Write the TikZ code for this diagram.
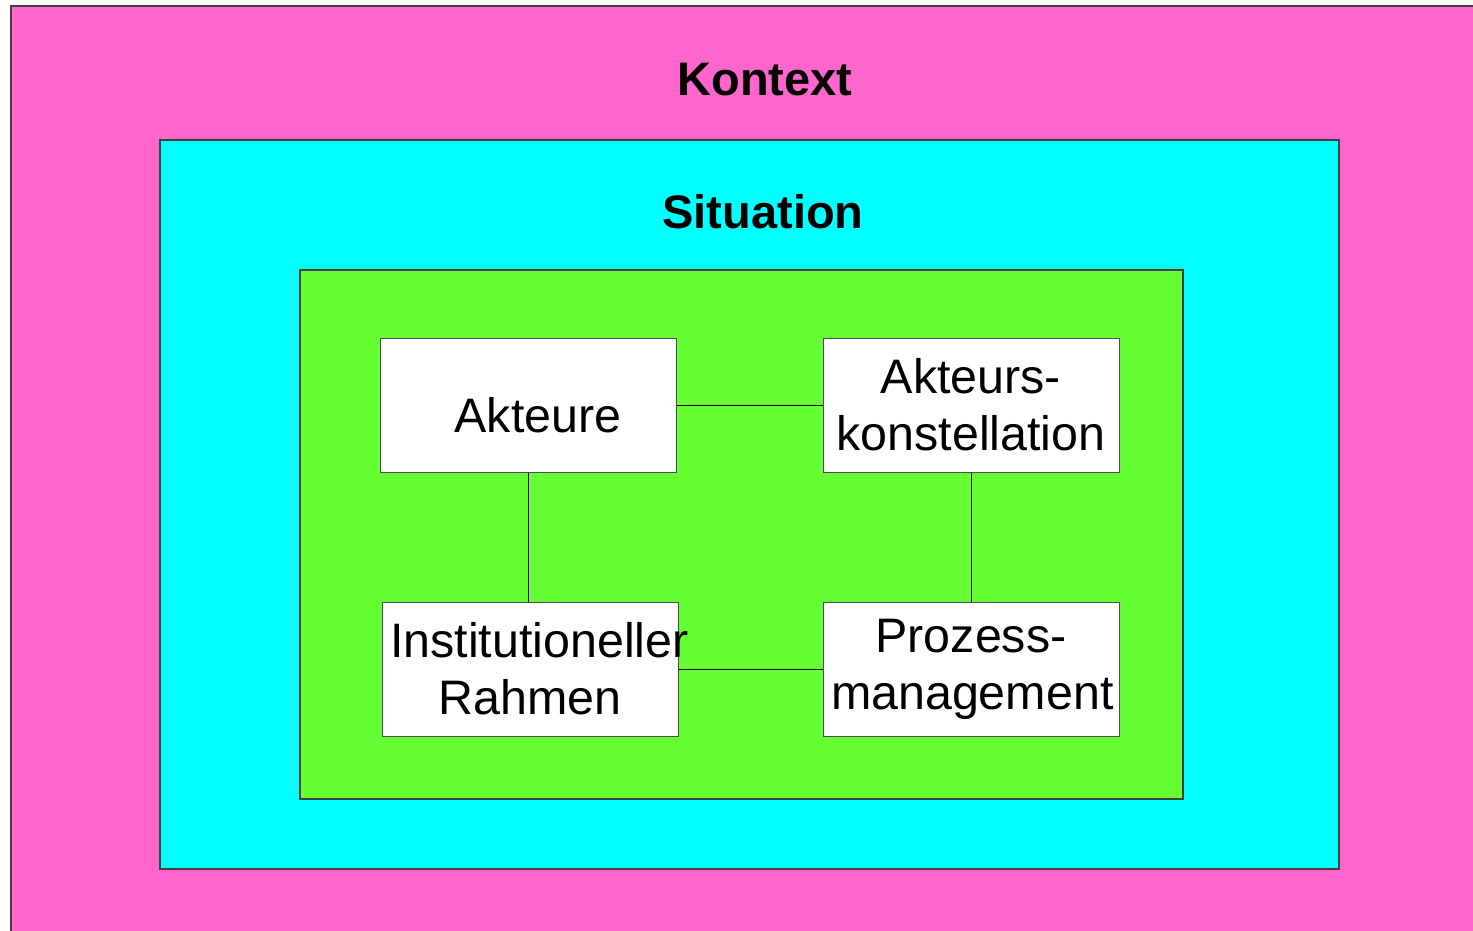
\documentclass[tikz,border=0pt]{standalone}
\usepackage{fontspec}
\setmainfont{Liberation Sans}
\usetikzlibrary{positioning}
\definecolor{rosa}{RGB}{255, 102, 204}
\definecolor{tuerkis}{RGB}{0, 255, 255}
\definecolor{gruen}{RGB}{102, 255, 51}
\tikzset{
    ebene/.style={draw=black!75, line width=0.6pt},
    feld/.style={draw=black!70, fill=white, rectangle, line width=0.5pt, inner sep=4pt,
                 minimum width=148pt, minimum height=67pt, text width=140pt, align=center,
                 font=\fontsize{24.2}{28.5}\selectfont},
    titel/.style={font=\fontsize{23.5}{28.5}\selectfont\bfseries},
    conn/.style={-, black, line width=0.5pt},
}
\begin{document}
\begin{tikzpicture}[x=0.5pt, y=-0.5pt]
    \useasboundingbox (0,0) rectangle (1473,931);
    \fill[white] (0,0) rectangle (1473,931);

    \draw[ebene, fill=rosa] (11,6) rectangle (1490,950);
    \draw[ebene, fill=tuerkis] (160,140) rectangle (1339,869);
    \draw[ebene, fill=gruen] (300,270) rectangle (1183,799);

    \node[titel] (kontext) at (765,80) {Kontext};
    \node[titel] (situation) at (763,212) {Situation};

    \node[feld] (akt) at (528,405) {\raisebox{-5pt}[\height][\depth]{\hspace*{10pt}Akteure}};
    \node[feld] (kon) at (971,405) {Akteurs-\\konstellation};
    \node[feld] (ins) at (530,669) {Institutioneller\\Rahmen};
    \node[feld] (pro) at (971,669) {Prozess-\\management};

    \draw[conn] (akt.east) -- (kon.west);
    \draw[conn] (akt.south) -- (akt.south |- ins.north);
    \draw[conn] (kon.south) -- (pro.north);
    \draw[conn] (ins.east) -- (pro.west);
\end{tikzpicture}
\end{document}
